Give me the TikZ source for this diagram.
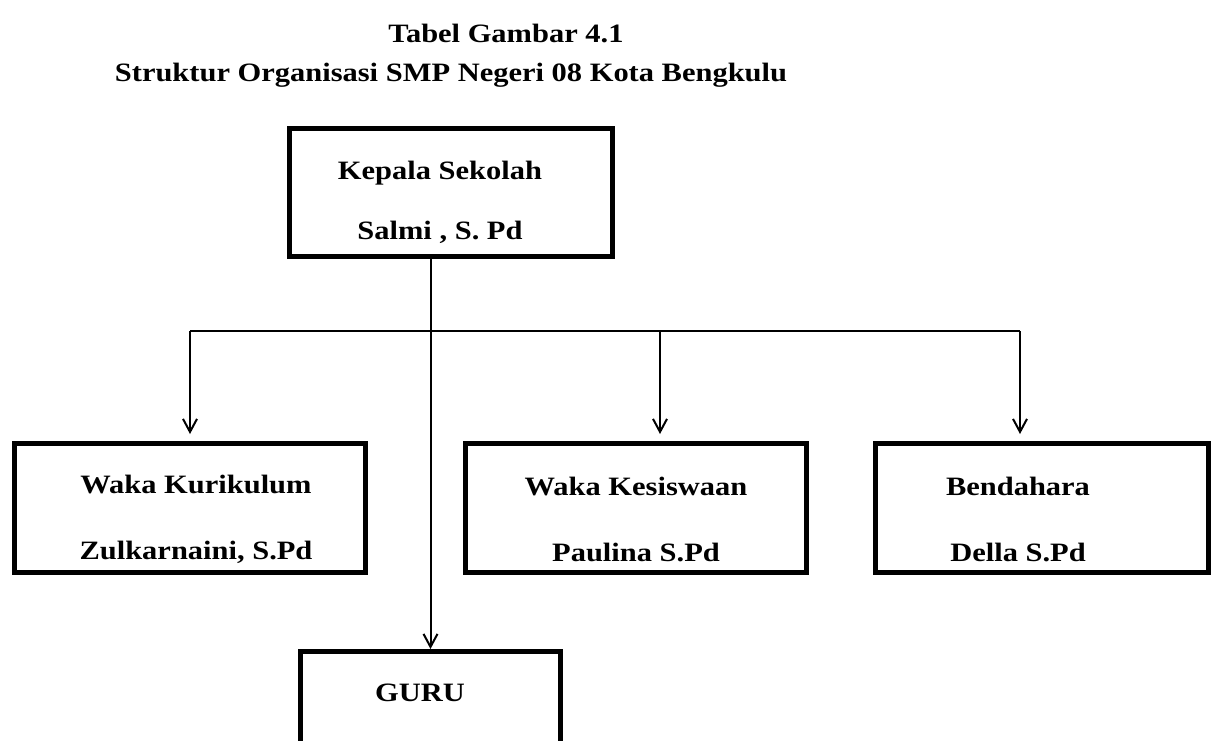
\documentclass[tikz,border=0pt]{standalone}
\usepackage{fontspec}
\setmainfont{Liberation Serif}[FakeStretch=1.15]
\usetikzlibrary{arrows.meta}

\begin{document}
\begin{tikzpicture}[x=1pt, y=-1pt,
  kotak/.style={draw, line width=5pt, inner sep=0pt},
  teks/.style={font=\bfseries\fontsize{26.5}{30}\selectfont, align=center},
  garis/.style={line width=2pt},
  >={Straight Barb[length=13pt,width=14pt]}]

\useasboundingbox (0,0) rectangle (1211,740);
\clip (0,0) rectangle (1211,740);

% Judul
\node [teks] (judul)    at (506,33) {Tabel Gambar 4.1};
\node [teks] (subjudul) at (451,75) {Struktur Organisasi SMP Negeri 08 Kota Bengkulu};

% Kotak-kotak jabatan
\node [kotak, minimum width=323, minimum height=128] (kepala)    at (451,192.5) {};
\node [kotak, minimum width=351, minimum height=129] (kurikulum) at (190,508)   {};
\node [kotak, minimum width=341, minimum height=129] (kesiswaan) at (636,508)   {};
\node [kotak, minimum width=333, minimum height=129] (bendahara) at (1042,508)  {};
\node [kotak, minimum width=260, minimum height=140] (guru)      at (430.5,721.5) {};

% Isi kotak
\node [teks] (kepala-t)    at (440,202) {Kepala Sekolah\\[30pt]Salmi , S. Pd};
\node [teks] (kurikulum-t) at (196,519) {Waka Kurikulum\\[36pt]Zulkarnaini, S.Pd};
\node [teks] (kesiswaan-t) at (636,519) {Waka Kesiswaan\\[36pt]Paulina S.Pd};
\node [teks] (bendahara-t) at (1018,519) {Bendahara\\[36pt]Della S.Pd};
\node [teks] (guru-t)      at (420,693) {GURU};

% Garis penghubung
\coordinate (cabang1) at (190,331);
\coordinate (cabang2) at (660,331);
\coordinate (cabang3) at (1020,331);

\draw [garis,->] (kepala.south -| guru.north) -- (guru.north);
\draw [garis] (cabang1) -- (cabang3);
\draw [garis,->,shorten >=7pt] (cabang1) -- (cabang1 |- kurikulum.north);
\draw [garis,->,shorten >=7pt] (cabang2) -- (cabang2 |- kesiswaan.north);
\draw [garis,->,shorten >=7pt] (cabang3) -- (cabang3 |- bendahara.north);

\end{tikzpicture}
\end{document}
